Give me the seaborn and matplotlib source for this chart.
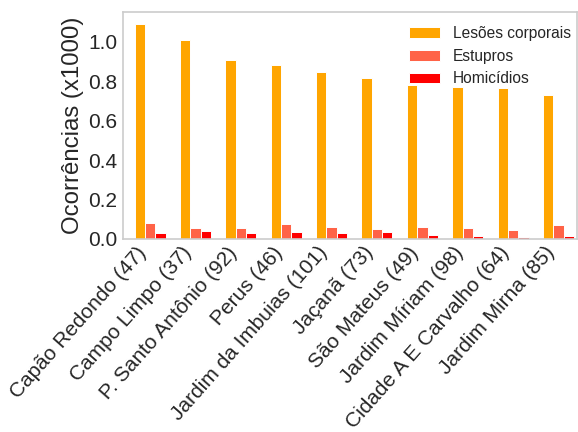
import matplotlib
matplotlib.use("Agg")
import matplotlib.pyplot as plt
import seaborn as sns
import pandas as pd

# Top 10 neighbourhoods (number of the district in parentheses)
bairros = [
    "Capão Redondo (47)", "Campo Limpo (37)", "P. Santo Antônio (92)",
    "Perus (46)", "Jardim da Imbuias (101)", "Jaçanã (73)",
    "São Mateus (49)", "Jardim Míriam (98)", "Cidade A E Carvalho (64)",
    "Jardim Mirna (85)",
]
# Occurrences, in thousands
lesoes = [1.087, 1.009, 0.905, 0.884, 0.847, 0.818, 0.779, 0.771, 0.767, 0.732]
estupros = [0.082, 0.057, 0.058, 0.077, 0.062, 0.052, 0.062, 0.058, 0.045, 0.070]
homicidios = [0.028, 0.042, 0.030, 0.035, 0.031, 0.035, 0.018, 0.013, 0.008, 0.013]

series = ["Lesões corporais", "Estupros", "Homicídios"]
cores = ["#FFA500", "#FF6347", "#FF0000"]

df = pd.DataFrame({
    "bairro": bairros * 3,
    "crime": [series[0]] * len(bairros) + [series[1]] * len(bairros) + [series[2]] * len(bairros),
    "valor": lesoes + estupros + homicidios,
})

sns.set_theme(style="whitegrid")
plt.rcParams["font.family"] = ["Liberation Sans", "DejaVu Sans"]

fig = plt.figure(figsize=(5.78, 4.32), dpi=100)
ax = fig.add_axes([123 / 578, 1 - 239 / 432, 454 / 578, 227 / 432])

sns.barplot(data=df, x="bairro", y="valor", hue="crime", palette=cores,
            hue_order=series, width=0.684, edgecolor="white", linewidth=0.7,
            saturation=1, ax=ax)

ax.grid(False)
for s in ax.spines.values():
    s.set_color("#cccccc")
    s.set_linewidth(1.2)

ax.set_xlim(-0.6, 9.41)
ax.set_ylim(0, 1.15)
ax.set_yticks([0.0, 0.2, 0.4, 0.6, 0.8, 1.0])
ax.set_yticklabels(["0.0", "0.2", "0.4", "0.6", "0.8", "1.0"])
ax.set_xlabel("")
ax.set_ylabel("Ocorrências (x1000)", fontsize=17.3, color="#262626", labelpad=3)
ax.tick_params(axis="y", labelsize=15, colors="#262626", length=0, pad=4)
ax.tick_params(axis="x", labelsize=15, colors="#262626", length=0, pad=3)
plt.setp(ax.get_xticklabels(), rotation=48.5, ha="right")

ax.legend(loc="upper right", bbox_to_anchor=(1.0, 0.966), borderaxespad=0,
          frameon=False, fontsize=11.2)

fig.savefig("out.png", dpi=100)
